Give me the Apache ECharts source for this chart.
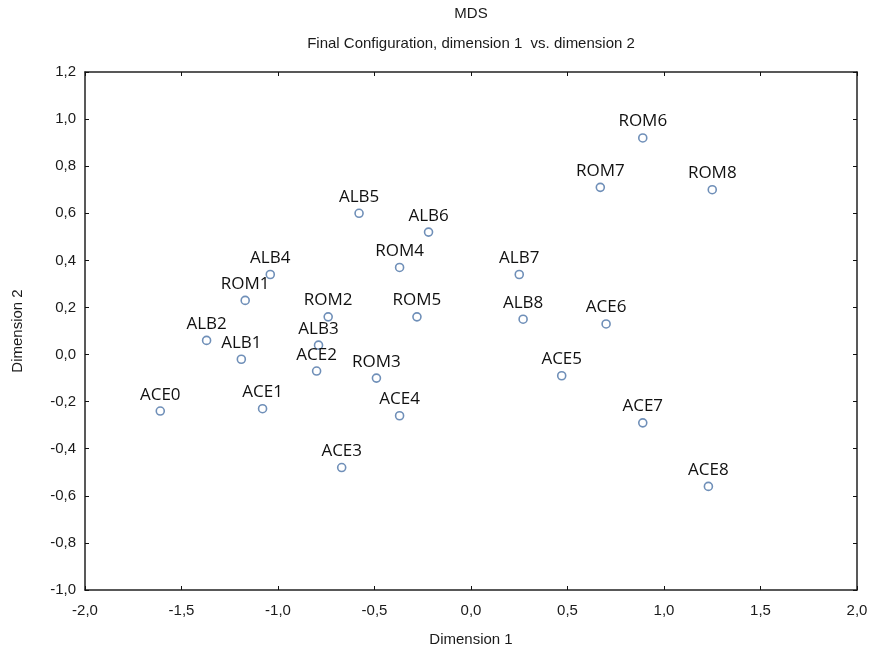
<!DOCTYPE html>
<html>
<head>
<meta charset="utf-8">
<script src="https://cdn.jsdelivr.net/npm/echarts@6/dist/echarts.min.js"></script>
<style>
  html, body { margin: 0; padding: 0; background: #fff; }
  #chart { width: 877px; height: 652px; }
</style>
</head>
<body>
<div id="chart"></div>
<script>
// point names and their MDS coordinates
var names = ['ACE0', 'ACE1', 'ACE2', 'ACE3', 'ACE4', 'ACE5', 'ACE6', 'ACE7', 'ACE8',
             'ALB1', 'ALB2', 'ALB3', 'ALB4', 'ALB5', 'ALB6', 'ALB7', 'ALB8',
             'ROM1', 'ROM2', 'ROM3', 'ROM4', 'ROM5', 'ROM6', 'ROM7', 'ROM8'];
var dim1 = [-1.61, -1.08, -0.80, -0.67, -0.37, 0.47, 0.70, 0.89, 1.23,
            -1.19, -1.37, -0.79, -1.04, -0.58, -0.22, 0.25, 0.27,
            -1.17, -0.74, -0.49, -0.37, -0.28, 0.89, 0.67, 1.25];
var dim2 = [-0.24, -0.23, -0.07, -0.48, -0.26, -0.09, 0.13, -0.29, -0.56,
            -0.02, 0.06, 0.04, 0.34, 0.60, 0.52, 0.34, 0.15,
            0.23, 0.16, -0.10, 0.37, 0.16, 0.92, 0.71, 0.70];

var chart = echarts.init(document.getElementById('chart'));

var pts = names.map(function (n, i) { return { name: n, value: [dim1[i], dim2[i]] }; });
var fmt = function (v) { return v.toFixed(1).replace('.', ','); };
var axisFont = { fontFamily: 'Liberation Sans, Arial', fontSize: 15, color: '#1a1a1a' };

var sideAxis = {
  axisLine: { show: true, onZero: false, lineStyle: { color: '#222', width: 1.5 } },
  axisTick: { show: true, inside: true, length: 4, lineStyle: { color: '#111' } },
  splitLine: { show: false }
};

chart.setOption({
  animation: false,
  grid: { left: 85, right: 20, top: 72, bottom: 61 },
  graphic: [
    { type: 'text', x: 471, y: 6, style: { text: 'MDS', textAlign: 'center', font: '15px "Liberation Sans", Arial', fill: '#1a1a1a' } },
    { type: 'text', x: 471, y: 36, style: { text: 'Final Configuration, dimension 1  vs. dimension 2', textAlign: 'center', font: '15px "Liberation Sans", Arial', fill: '#1a1a1a' } }
  ],
  xAxis: [
    Object.assign({
      type: 'value', position: 'bottom', min: -2, max: 2, interval: 0.5,
      name: 'Dimension 1', nameLocation: 'middle', nameGap: 42,
      nameTextStyle: axisFont,
      axisLabel: Object.assign({ formatter: fmt, margin: 13 }, axisFont)
    }, sideAxis),
    Object.assign({
      type: 'value', position: 'top', min: -2, max: 2, interval: 0.5,
      axisLabel: { show: false }
    }, sideAxis)
  ],
  yAxis: [
    Object.assign({
      type: 'value', position: 'left', min: -1, max: 1.2, interval: 0.2,
      name: 'Dimension 2', nameLocation: 'middle', nameGap: 60, nameRotate: 90,
      nameTextStyle: axisFont,
      axisLabel: Object.assign({ formatter: fmt, margin: 9 }, axisFont)
    }, sideAxis),
    Object.assign({
      type: 'value', position: 'right', min: -1, max: 1.2, interval: 0.2,
      axisLabel: { show: false }
    }, sideAxis)
  ],
  series: [{
    type: 'scatter',
    data: pts,
    symbol: 'circle',
    symbolSize: 8,
    itemStyle: { color: '#fff', borderColor: '#6f8fb8', borderWidth: 1.6, opacity: 1 },
    label: {
      show: true, position: 'top', distance: 3,
      formatter: '{b}',
      fontFamily: 'Open Sans, Lato, sans-serif', fontSize: 17, color: '#111'
    }
  }]
});
</script>
</body>
</html>
